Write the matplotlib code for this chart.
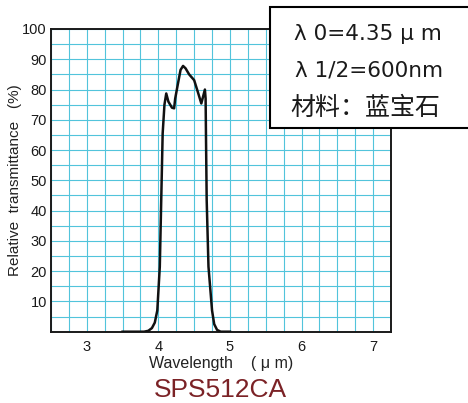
import matplotlib
matplotlib.use("Agg")
import matplotlib.pyplot as plt
from matplotlib.patches import Rectangle
from matplotlib.ticker import MultipleLocator

# transmission curve (um, %)
wavelength = [3.50, 3.80, 3.86, 3.91, 3.95, 3.985, 4.02, 4.04, 4.06, 4.085, 4.11,
              4.14, 4.19, 4.22, 4.235, 4.27, 4.31, 4.345, 4.38, 4.43, 4.50,
              4.55, 4.60, 4.65, 4.66, 4.665, 4.675, 4.70, 4.75, 4.78, 4.82, 4.87, 5.00]
transmittance = [0, 0, 0.3, 1.2, 3, 7, 21.5, 43.5, 65.5, 75, 78.7,
                 76, 74, 73.8, 77, 81.5, 86.5, 87.8, 87, 85, 83.1,
                 79.3, 75.4, 80, 77, 65, 43.5, 21.5, 7, 2.5, 0.6, 0, 0]

x_ticks = [3, 4, 5, 6, 7]
y_ticks = [10, 20, 30, 40, 50, 60, 70, 80, 90, 100]
info_lines = ["λ 0=4.35 μ m", "λ 1/2=600nm", "材料：蓝宝石"]
model = "SPS512CA"

GRID = "#52c4db"
W, H = 468, 403

fig = plt.figure(figsize=(W / 100, H / 100), dpi=100)
ax = fig.add_axes([51 / W, 1 - 331.7 / H, 340 / W, 302.7 / H])

ax.plot(wavelength, transmittance, color="#111111", lw=1.8, zorder=3,
        solid_joinstyle="round")

ax.set_xlim(2.5, 7.25)
ax.set_ylim(0, 100)
ax.xaxis.set_minor_locator(MultipleLocator(0.25))
ax.yaxis.set_minor_locator(MultipleLocator(5))
ax.set_xticks(x_ticks)
ax.set_yticks(y_ticks)
ax.grid(True, which="both", color=GRID, lw=0.8)
ax.set_axisbelow(True)
ax.tick_params(which="both", length=0)
ax.tick_params(axis="x", pad=6)
ax.tick_params(axis="y", pad=3)
for lab in ax.get_xticklabels() + ax.get_yticklabels():
    lab.set_family("Liberation Sans")
    lab.set_fontsize(10.5)
    lab.set_color("#1a1a1a")
for sp in ax.spines.values():
    sp.set_linewidth(1.4)
    sp.set_color("#1a1a1a")

fig.text(221 / W, 1 - 363.5 / H, "Wavelength    ( μ m)", ha="center", va="center",
         family="Liberation Sans", fontsize=11.5, color="#222222")
fig.text(15 / W, 1 - 180 / H, "Relative  transmittance   (%)", rotation=90,
         ha="center", va="center", family="Liberation Sans", fontsize=11,
         color="#222222")
fig.text(220 / W, 1 - 390 / H, model, ha="center", va="center",
         family="Liberation Sans", fontsize=19, color="#7b2226")

# info box, runs off the right edge like the original
box = Rectangle((270 / W, 1 - 127.7 / H), 210 / W, 120.4 / H,
                transform=fig.transFigure, facecolor="white",
                edgecolor="black", lw=1.5, zorder=5, clip_on=False)
fig.add_artist(box)
fig.text(368 / W, 1 - 33.7 / H, info_lines[0], ha="center", va="center",
         family="DejaVu Sans", fontsize=15.5, color="#1a1a1a", zorder=6)
fig.text(369 / W, 1 - 70 / H, info_lines[1], ha="center", va="center",
         family="DejaVu Sans", fontsize=15.5, color="#1a1a1a", zorder=6)
fig.text(365 / W, 1 - 108 / H, info_lines[2], ha="center", va="center",
         family=["Noto Sans CJK SC", "DejaVu Sans"], fontsize=18,
         color="#1a1a1a", zorder=6)

fig.savefig("out.png", dpi=100)
